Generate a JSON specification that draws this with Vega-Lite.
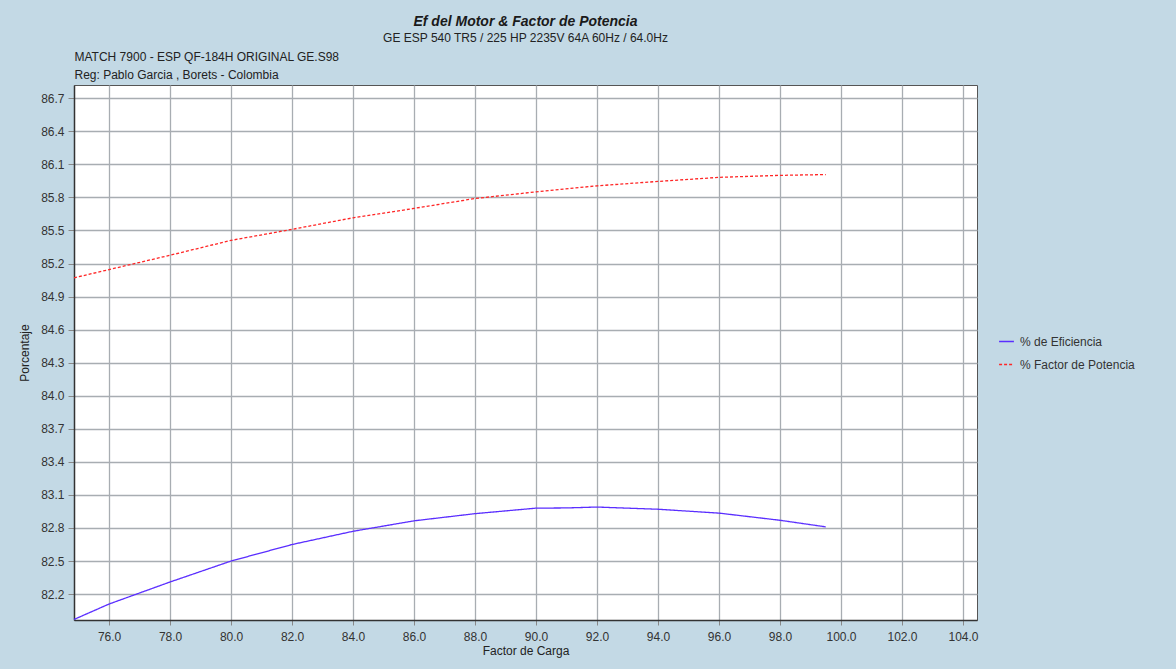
{
  "$schema": "https://vega.github.io/schema/vega-lite/v6.json",
  "width": 903,
  "height": 535,
  "autosize": {"type": "none"},
  "padding": {"left": 74, "top": 85, "right": 199, "bottom": 49},
  "background": "#C3D9E5",
  "title": {
    "text": "Ef del Motor & Factor de Potencia",
    "subtitle": "GE ESP 540 TR5 / 225 HP 2235V 64A 60Hz / 64.0Hz",
    "anchor": "middle",
    "font": "Liberation Sans",
    "fontSize": 14,
    "fontStyle": "italic",
    "fontWeight": "bold",
    "color": "#1a1a1a",
    "subtitleFont": "Liberation Sans",
    "subtitleFontSize": 12,
    "subtitleColor": "#222222",
    "subtitlePadding": 4,
    "offset": 6
  },
  "config": {
    "view": {"fill": "white", "stroke": "#555555", "strokeWidth": 1},
    "axis": {
      "labelFont": "Liberation Sans",
      "labelFontSize": 12,
      "labelColor": "#333333",
      "titleFont": "Liberation Sans",
      "titleFontSize": 12,
      "titleFontWeight": "normal",
      "titleColor": "#222222",
      "gridColor": "#A8ADB2",
      "gridWidth": 1.3,
      "gridOpacity": 1,
      "domainColor": "#333333",
      "domainWidth": 1.5,
      "tickColor": "#888888",
      "tickSize": 6
    },
    "legend": {
      "labelFont": "Liberation Sans",
      "labelFontSize": 12,
      "labelColor": "#333333"
    }
  },
  "data": {
    "values": [
      {"carga": 74.85, "valor": 81.97, "serie": "% de Eficiencia"},
      {"carga": 76, "valor": 82.11, "serie": "% de Eficiencia"},
      {"carga": 78, "valor": 82.31, "serie": "% de Eficiencia"},
      {"carga": 80, "valor": 82.5, "serie": "% de Eficiencia"},
      {"carga": 82, "valor": 82.65, "serie": "% de Eficiencia"},
      {"carga": 84, "valor": 82.77, "serie": "% de Eficiencia"},
      {"carga": 86, "valor": 82.865, "serie": "% de Eficiencia"},
      {"carga": 88, "valor": 82.93, "serie": "% de Eficiencia"},
      {"carga": 90, "valor": 82.98, "serie": "% de Eficiencia"},
      {"carga": 91, "valor": 82.982, "serie": "% de Eficiencia"},
      {"carga": 92, "valor": 82.99, "serie": "% de Eficiencia"},
      {"carga": 94, "valor": 82.97, "serie": "% de Eficiencia"},
      {"carga": 96, "valor": 82.935, "serie": "% de Eficiencia"},
      {"carga": 98, "valor": 82.87, "serie": "% de Eficiencia"},
      {"carga": 99.5, "valor": 82.81, "serie": "% de Eficiencia"},
      {"carga": 74.85, "valor": 85.07, "serie": "% Factor de Potencia"},
      {"carga": 76, "valor": 85.145, "serie": "% Factor de Potencia"},
      {"carga": 78, "valor": 85.275, "serie": "% Factor de Potencia"},
      {"carga": 80, "valor": 85.41, "serie": "% Factor de Potencia"},
      {"carga": 82, "valor": 85.51, "serie": "% Factor de Potencia"},
      {"carga": 84, "valor": 85.615, "serie": "% Factor de Potencia"},
      {"carga": 86, "valor": 85.7, "serie": "% Factor de Potencia"},
      {"carga": 88, "valor": 85.79, "serie": "% Factor de Potencia"},
      {"carga": 90, "valor": 85.85, "serie": "% Factor de Potencia"},
      {"carga": 92, "valor": 85.905, "serie": "% Factor de Potencia"},
      {"carga": 94, "valor": 85.945, "serie": "% Factor de Potencia"},
      {"carga": 96, "valor": 85.982, "serie": "% Factor de Potencia"},
      {"carga": 98, "valor": 86.0, "serie": "% Factor de Potencia"},
      {"carga": 99.5, "valor": 86.007, "serie": "% Factor de Potencia"}
    ]
  },
  "encoding": {
    "y": {
      "field": "valor",
      "type": "quantitative",
      "scale": {"domain": [81.965, 86.82], "nice": false, "zero": false},
      "axis": {
        "title": "Porcentaje",
        "values": [82.2, 82.5, 82.8, 83.1, 83.4, 83.7, 84.0, 84.3, 84.6, 84.9, 85.2, 85.5, 85.8, 86.1, 86.4, 86.7],
        "format": ".1f",
        "titlePadding": 9,
        "labelPadding": 4
      }
    },
    "color": {
      "field": "serie",
      "type": "nominal",
      "scale": {"domain": ["% de Eficiencia", "% Factor de Potencia"], "range": ["#5A2EFF", "#FF2626"]},
      "legend": {
        "title": null,
        "orient": "none",
        "legendX": 924,
        "legendY": 248,
        "symbolType": "stroke",
        "symbolStrokeWidth": 1.3,
        "symbolSize": 220,
        "rowPadding": 8,
        "labelOffset": 5
      }
    },
    "strokeDash": {
      "field": "serie",
      "type": "nominal",
      "scale": {"domain": ["% de Eficiencia", "% Factor de Potencia"], "range": [[1, 0], [3, 2]]},
      "legend": {
        "title": null,
        "orient": "none",
        "legendX": 924,
        "legendY": 248,
        "symbolType": "stroke",
        "symbolStrokeWidth": 1.3,
        "symbolSize": 220,
        "rowPadding": 8,
        "labelOffset": 5
      }
    }
  },
  "layer": [
    {
      "transform": [{"filter": "datum.serie === '% de Eficiencia'"}],
      "mark": {"type": "line", "strokeWidth": 1.3},
      "encoding": {
        "x": {
          "field": "carga",
          "type": "quantitative",
          "scale": {"domain": [74.85, 104.46], "nice": false, "zero": false},
          "axis": {
            "title": "Factor de Carga",
            "values": [76, 78, 80, 82, 84, 86, 88, 90, 92, 94, 96, 98, 100, 102, 104],
            "format": ".1f",
            "labelPadding": 6,
            "titlePadding": 3,
            "tickSize": 5
          }
        }
      }
    },
    {
      "transform": [{"filter": "datum.serie === '% Factor de Potencia'"}],
      "mark": {"type": "line", "strokeWidth": 1.3},
      "encoding": {
        "x": {
          "field": "carga",
          "type": "quantitative",
          "scale": {"domain": [74.85, 104.46], "nice": false, "zero": false},
          "axis": {
            "orient": "top",
            "title": ["MATCH 7900 - ESP QF-184H ORIGINAL GE.S98", "Reg: Pablo Garcia , Borets - Colombia"],
            "titleAnchor": "start",
            "titleAlign": "left",
            "titleLineHeight": 18,
            "titlePadding": 4,
            "labels": false,
            "ticks": false,
            "domain": false,
            "grid": false
          }
        }
      }
    }
  ],
  "resolve": {"axis": {"x": "independent"}}
}
